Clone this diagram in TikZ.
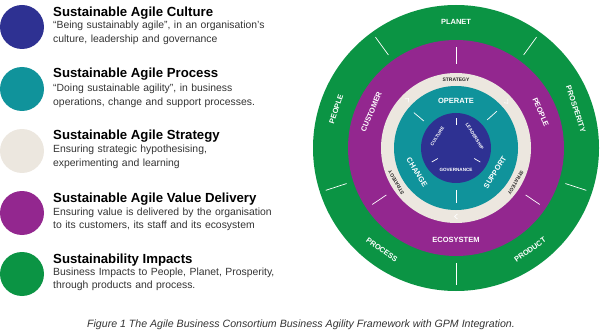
\documentclass[tikz,border=0pt]{standalone}
\usepackage{fontspec}
\setmainfont{Liberation Sans}
\usetikzlibrary{positioning}
\definecolor{cultureblue}{HTML}{2E3192}
\definecolor{processteal}{HTML}{10939B}
\definecolor{strategybeige}{HTML}{ECE7DF}
\definecolor{valuepurple}{HTML}{93278F}
\definecolor{impactgreen}{HTML}{0B9444}

\begin{document}
\begin{tikzpicture}[
    x=1pt, y=1pt,
    dot/.style={circle, inner sep=0pt, minimum size=44pt},
    title/.style={anchor=base west, inner sep=0pt, font=\fontsize{13.2}{15}\selectfont\bfseries},
    desc/.style={anchor=base west, inner sep=0pt, text width=262pt, align=left, text=black!80, font=\fontsize{10.4}{13.8}\selectfont},
    ring/.style={inner sep=0pt, text=white, font=\fontsize{7.5}{8}\selectfont\bfseries},
    strat/.style={inner sep=0pt, text=black!85, font=\fontsize{5}{6}\selectfont\bfseries},
    core/.style={inner sep=0pt, text=white, font=\fontsize{4.6}{5}\selectfont\bfseries},
    divider/.style={white, line width=0.7pt},
    chevron/.style={white, line width=0.6pt},
]
\useasboundingbox (0,0) rectangle (602,335);

% Legend
\node[dot, fill=cultureblue] (leg-culture) at (22,308) {};
\node[title] (culture-t) at (53,318) {Sustainable Agile Culture};
\node[desc] (culture-d) at (53,306) {“Being sustainably agile”, in an organisation’s\\culture, leadership and governance};

\node[dot, fill=processteal] (leg-process) at (22,246) {};
\node[title] (process-t) at (53,257) {Sustainable Agile Process};
\node[desc] (process-d) at (53,243) {“Doing sustainable agility”, in business\\operations, change and support processes.};

\node[dot, fill=strategybeige] (leg-strategy) at (22,184) {};
\node[title] (strategy-t) at (53,195) {Sustainable Agile Strategy};
\node[desc] (strategy-d) at (53,182) {Ensuring strategic hypothesising,\\experimenting and learning};

\node[dot, fill=valuepurple] (leg-value) at (22,122) {};
\node[title] (value-t) at (53,132) {Sustainable Agile Value Delivery};
\node[desc] (value-d) at (53,120) {Ensuring value is delivered by the organisation\\to its customers, its staff and its ecosystem};

\node[dot, fill=impactgreen] (leg-impact) at (22,61) {};
\node[title] (impact-t) at (53,72) {Sustainability Impacts};
\node[desc] (impact-d) at (53,60) {Business Impacts to People, Planet, Prosperity,\\through products and process.};

% Caption
\node[anchor=base, inner sep=0pt, text=black!80, font=\fontsize{10.6}{12}\selectfont\itshape] (caption) at (301,8)
    {Figure 1 The Agile Business Consortium Business Agility Framework with GPM Integration.};

% Wheel
\begin{scope}[shift={(456,187)}]
\fill[impactgreen] (0,0) circle (143pt);
\fill[valuepurple] (0,0) circle (108pt);
\fill[strategybeige] (0,0) circle (75pt);
\fill[processteal] (0,0) circle (62pt);
\fill[cultureblue] (0,0) circle (35pt);

% Dividers
\draw[divider] (-90:115pt) -- (-90:137pt);
\draw[divider] (-18:115pt) -- (-18:137pt);
\draw[divider] (54:115pt) -- (54:137pt);
\draw[divider] (126:115pt) -- (126:137pt);
\draw[divider] (198:115pt) -- (198:137pt);
\draw[divider] (90:84pt) -- (90:101pt);
\draw[divider] (214:84pt) -- (214:101pt);
\draw[divider] (-34:84pt) -- (-34:101pt);
\draw[divider] (140:42pt) -- (140:55pt);
\draw[divider] (42:42pt) -- (42:55pt);
\draw[divider] (-90:42pt) -- (-90:55pt);
\draw[divider] (90:23pt) -- (90:30pt);
\draw[divider] (210:21pt) -- (210:28pt);
\draw[divider] (-30:21pt) -- (-30:28pt);

% Chevrons
\draw[chevron, rotate=45] (-1.5pt,71pt) -- (1.5pt,68.5pt) -- (-1.5pt,66pt);
\draw[chevron, rotate=-48] (-1.5pt,71pt) -- (1.5pt,68.5pt) -- (-1.5pt,66pt);
\draw[chevron, rotate=180] (-1.5pt,71pt) -- (1.5pt,68.5pt) -- (-1.5pt,66pt);

% Impact labels
\node[ring] (planet) at (90:126pt) {PLANET};
\node[ring, rotate=-72] (prosperity) at (18:126pt) {PROSPERITY};
\node[ring, rotate=36] (product) at (-54:126pt) {PRODUCT};
\node[ring, rotate=-36] (process) at (-126:126pt) {PROCESS};
\node[ring, rotate=72] (people-out) at (162:126pt) {PEOPLE};

% Value delivery labels
\node[ring, rotate=67] (customer) at (157:92pt) {CUSTOMER};
\node[ring, rotate=-67] (people-in) at (23:92pt) {PEOPLE};
\node[ring] (ecosystem) at (-90:92pt) {ECOSYSTEM};

% Strategy labels
\node[strat] (strategy-top) at (90:68.5pt) {STRATEGY};
\node[strat, rotate=120] (strategy-left) at (210:69pt) {STRATEGY};
\node[strat, rotate=-120] (strategy-right) at (-30:69pt) {STRATEGY};

% Process labels
\node[ring] (operate) at (90:47pt) {OPERATE};
\node[ring, rotate=-58] (change) at (212:46pt) {CHANGE};
\node[ring, rotate=58] (support) at (-32:46pt) {SUPPORT};

% Culture labels
\node[core, rotate=58] (culture) at (148:22pt) {CULTURE};
\node[core, rotate=-58] (leadership) at (32:22pt) {LEADERSHIP};
\node[core] (governance) at (-90:22pt) {GOVERNANCE};
\end{scope}

\end{tikzpicture}
\end{document}
